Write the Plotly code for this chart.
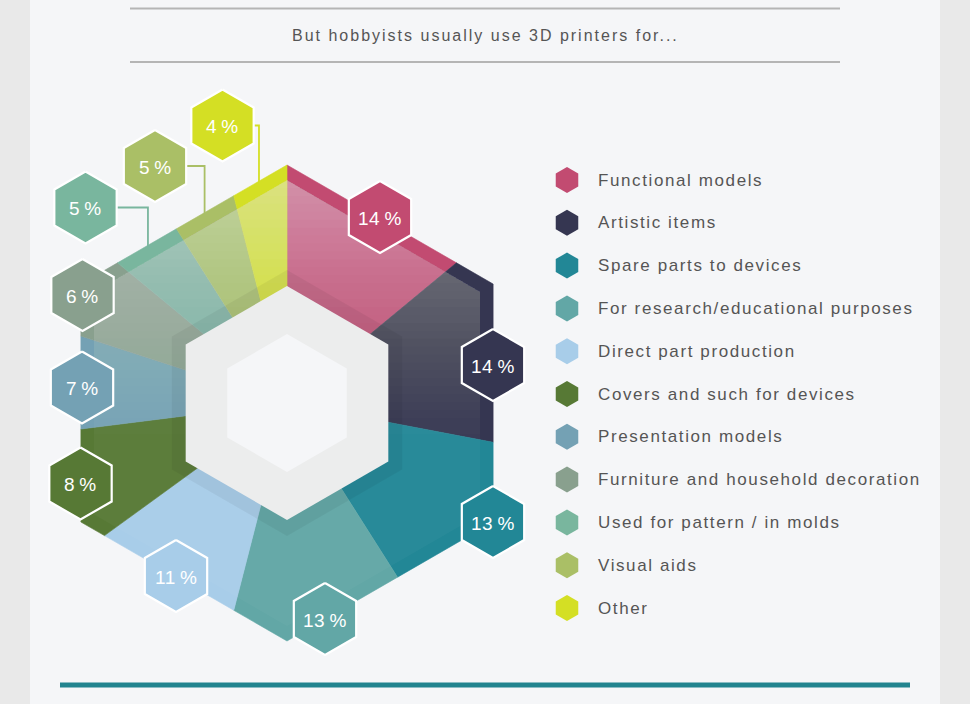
import math
import plotly.graph_objects as go

# ---------------- data ----------------
categories = [
    "Functional models",
    "Artistic items",
    "Spare parts to devices",
    "For research/educational purposes",
    "Direct part production",
    "Covers and such for devices",
    "Presentation models",
    "Furniture and household decoration",
    "Used for pattern / in molds",
    "Visual aids",
    "Other",
]
shares = [14, 14, 13, 13, 11, 8, 7, 6, 5, 5, 4]
colors = ["#c24b71", "#353651", "#228796", "#62a7a6", "#a8cde9", "#577935",
          "#74a1b4", "#89a08e", "#79b69e", "#aabf66", "#d4df24"]
title_text = "But hobbyists usually use 3D printers for..."

# ---------------- layout constants ----------------
W, H = 970, 704
CX, CY = 287, 403
R_OUT, R_GLOSS, R_SHADOW, R_RING, R_HOLE = 238, 223, 133, 117, 69
R_LABEL = 36
# label hexagon centres (layout positions, pixels)
label_xy = [(380, 217), (493, 365), (493, 522), (325, 619), (176, 576),
            (80.5, 483.5), (82, 387.5), (82.5, 295), (85.5, 207.5),
            (155, 166), (222.5, 125.5)]
leader = [False] * 8 + [True] * 3
LEG_X, LEG_Y0, LEG_DY = 567, 180, 42.8
FONT = "Liberation Sans, Arial, sans-serif"


def hex_pts(cx, cy, r):
    xs, ys = [], []
    for k in range(7):
        t = math.radians(60 * k)
        xs.append(cx + r * math.sin(t))
        ys.append(cy - r * math.cos(t))
    return xs, ys


def hex_edge(theta_deg, r):
    apo = r * math.cos(math.radians(30))
    d = (theta_deg % 60) - 30
    rr = apo / math.cos(math.radians(d))
    t = math.radians(theta_deg)
    return CX + rr * math.sin(t), CY - rr * math.cos(t)


def half_width(dy, r):
    apo = r * math.cos(math.radians(30))
    ady = abs(dy)
    if ady <= r / 2:
        return apo
    return max(0.0, apo * (r - ady) / (r / 2))


def hex_top_part(r, ycut):
    """Polygon of the part of a centred hexagon above y = ycut."""
    top = CY - r
    ys_l = [top]
    bp = CY - r / 2
    if top < bp < ycut:
        ys_l.append(bp)
    ys_l.append(ycut)
    left = [(CX - half_width(y - CY, r), y) for y in ys_l]
    right = [(CX + half_width(y - CY, r), y) for y in reversed(ys_l)]
    pts = left + right + [left[0]]
    return [p[0] for p in pts], [p[1] for p in pts]


def spaced(txt, ls):
    return f'<span style="letter-spacing:{ls}px">{txt}</span>'


fig = go.Figure()

# slices
total = sum(shares)
a = 0.0
mids = []
for cat, v, c in zip(categories, shares, colors):
    a0, a1 = a, a + 360.0 * v / total
    a = a1
    mids.append((a0 + a1) / 2)
    angs = [a0] + [60 * k for k in range(0, 7) if a0 < 60 * k < a1] + [a1]
    xs, ys = [CX], [CY]
    for t in angs:
        x, y = hex_edge(t, R_OUT)
        xs.append(x)
        ys.append(y)
    xs.append(CX)
    ys.append(CY)
    fig.add_trace(go.Scatter(x=xs, y=ys, fill="toself", fillcolor=c, mode="lines",
                             line=dict(color=c, width=0.6), hoverinfo="skip",
                             showlegend=False, name=cat))

# gloss overlay: stacked white hexagon parts, more layers towards the top
BASE_A = 0.03
gx, gy = hex_pts(CX, CY, R_GLOSS)
fig.add_trace(go.Scatter(x=gx, y=gy, fill="toself", fillcolor=f"rgba(255,255,255,{BASE_A})",
                         mode="lines", line=dict(width=0, color="rgba(0,0,0,0)"),
                         hoverinfo="skip", showlegend=False))
Y_END, SPAN, N_STEPS = 450.0, 270.0, 34
prev = BASE_A
top = CY - R_GLOSS
step = (Y_END - top) / N_STEPS
for k in range(N_STEPS):
    ycut = Y_END - k * step
    ym = ycut - step / 2
    tt = min(1.0, max(0.0, (Y_END - ym) / SPAN))
    target = BASE_A + 0.42 * tt ** 1.5
    a_k = round(1 - (1 - target) / (1 - prev), 2)
    if a_k <= 0:
        continue
    prev = 1 - (1 - prev) * (1 - a_k)
    px, py = hex_top_part(R_GLOSS, ycut)
    fig.add_trace(go.Scatter(x=px, y=py, fill="toself", fillcolor=f"rgba(255,255,255,{a_k:.2f})",
                             mode="lines", line=dict(width=0, color="rgba(0,0,0,0)"),
                             hoverinfo="skip", showlegend=False))

# shadow ring, grey ring, inner hole
for r, fc in [(R_SHADOW, "rgba(0,0,0,0.05)"), (R_RING, "#eceded"), (R_HOLE, "#f5f6f8")]:
    hx, hy = hex_pts(CX, CY, r)
    fig.add_trace(go.Scatter(x=hx, y=hy, fill="toself", fillcolor=fc, mode="lines",
                             line=dict(width=0, color=fc), hoverinfo="skip", showlegend=False))

# leader lines
for i, (v, c) in enumerate(zip(shares, colors)):
    if not leader[i]:
        continue
    lx, ly = label_xy[i]
    ex, ey = hex_edge(mids[i], R_OUT)
    fig.add_trace(go.Scatter(x=[lx + R_LABEL * 0.866, ex, ex], y=[ly, ly, ey + 2], mode="lines",
                             line=dict(color=c, width=1.8), hoverinfo="skip", showlegend=False))

# label hexagons
for i, (v, c) in enumerate(zip(shares, colors)):
    lx, ly = label_xy[i]
    hx, hy = hex_pts(lx, ly, R_LABEL)
    fig.add_trace(go.Scatter(x=hx, y=hy, fill="toself", fillcolor=c, mode="lines",
                             line=dict(color="white", width=2.2), hoverinfo="skip", showlegend=False))
    fig.add_annotation(x=lx, y=ly + 1, text=spaced(f"{v}\u2009%", 0.5), showarrow=False,
                       font=dict(family=FONT, size=19, color="white"),
                       xanchor="center", yanchor="middle")

# legend
leg_y = [LEG_Y0 + LEG_DY * i for i in range(len(categories))]
fig.add_trace(go.Scatter(x=[LEG_X] * len(categories), y=leg_y, mode="markers",
                         marker=dict(symbol="hexagon", size=26, color=colors, line=dict(width=0)),
                         hoverinfo="skip", showlegend=False))
for cat, y in zip(categories, leg_y):
    fig.add_annotation(x=LEG_X + 29, y=y, text=spaced(cat, 1.6), showarrow=False,
                       font=dict(family=FONT, size=17, color="#555555"),
                       xanchor="left", yanchor="middle")

# title
fig.add_annotation(x=485, y=35, text=spaced(title_text, 2.0), showarrow=False,
                   font=dict(family=FONT, size=16, color="#555555"),
                   xanchor="center", yanchor="middle")

shapes = [
    dict(type="rect", x0=30, x1=940, y0=0, y1=H, fillcolor="#f5f6f8", line=dict(width=0), layer="below"),
    dict(type="line", x0=130, x1=840, y0=8.5, y1=8.5, line=dict(color="#b5b5b5", width=2), layer="below"),
    dict(type="line", x0=130, x1=840, y0=62, y1=62, line=dict(color="#b5b5b5", width=2), layer="below"),
    dict(type="rect", x0=60, x1=910, y0=682.5, y1=687.5, fillcolor="#22848f",
         line=dict(width=0), layer="below"),
]

fig.update_layout(
    width=W, height=H, margin=dict(l=0, r=0, t=0, b=0),
    paper_bgcolor="#e9e9e9", plot_bgcolor="rgba(0,0,0,0)",
    xaxis=dict(range=[0, W], visible=False, fixedrange=True),
    yaxis=dict(range=[H, 0], visible=False, fixedrange=True),
    shapes=shapes, showlegend=False,
)

fig.write_html("out.html")
